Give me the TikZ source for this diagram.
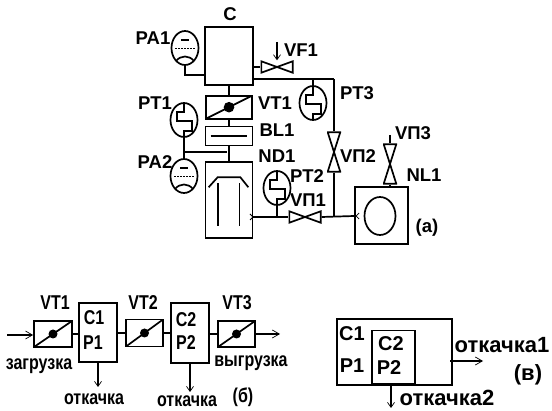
\documentclass[tikz,border=0pt]{standalone}
\usepackage{graphicx}
\usepackage{fontspec}
\setmainfont{Liberation Sans}
\usetikzlibrary{positioning,calc,shapes.geometric,arrows.meta}
\newcommand{\talltext}[1]{\scalebox{1}[1.25]{#1}}
\tikzset{
base/.style={line width=1.7pt},
box/.style={draw,base,inner sep=0pt},
lab/.style={font=\bfseries\fontsize{18.5}{19}\selectfont,inner sep=0pt},
labsm/.style={font=\bfseries\fontsize{16}{17}\selectfont,inner sep=0pt},
labwd/.style={font=\bfseries\fontsize{20}{21}\selectfont,inner sep=0pt},
labbig/.style={font=\bfseries\fontsize{22}{23}\selectfont,inner sep=0pt},
link/.style={base},
thickline/.style={line width=2.4pt},
pumpout/.style={line width=1.3pt,-{Straight Barb[length=5pt,width=7pt,line width=0.7pt]}},
gaugebase/.style={ellipse,draw,base,inner sep=0pt,minimum width=27pt,minimum height=34pt},
gaugept/.style={gaugebase,path picture={
\draw[base,shift={(path picture bounding box.center)}] (0,-17)--(0,-8)--(-7,-8)--(-7,1)--(8,1)--(8,11)--(0,11)--(0,17);}},
gaugepa/.style={gaugebase,path picture={
\draw[base,shift={(path picture bounding box.center)}] (-4,-8)--(4,-8);
\draw[line width=1pt,dash pattern=on 2pt off 1pt,shift={(path picture bounding box.center)}] (-10,1)--(10,1);
\draw[base,shift={(path picture bounding box.center)}] (-9,13) .. controls (-4,7) and (4,7) .. (9,13);}},
valveh/.style={inner sep=0pt,minimum width=33pt,minimum height=13pt,path picture={
\draw[base,shift={(path picture bounding box.center)}] (-15.7,-5.7)--(15.7,5.7)--(15.7,-5.7)--(-15.7,5.7)--cycle;}},
valvev/.style={inner sep=0pt,minimum width=14pt,minimum height=41pt,path picture={
\draw[base,shift={(path picture bounding box.center)}] (-6.3,-19.8)--(6.3,19.8)--(-6.3,19.8)--(6.3,-19.8)--cycle;}},
vtblock/.style={box,path picture={
\draw[base] (path picture bounding box.south west)--(path picture bounding box.north east);
\fill (path picture bounding box.center) circle[radius=#1];}},
vtblock/.default=4.5
}
\begin{document}
\begin{tikzpicture}[x=1pt,y=-1pt]
\useasboundingbox (0,0) rectangle (552,411);
% scheme (a)
\node[box,minimum width=48pt,minimum height=58pt] (cham) at (229,56) {};
\node[vtblock=5.3,minimum width=46pt,minimum height=23pt,below=9pt of cham] (vt1) {};
\node[box,minimum width=47pt,minimum height=19pt,below=6pt of vt1] (bl1) {};
\node[box,minimum width=47pt,minimum height=76pt,below=15pt of bl1] (nd1) {};
\draw[base] ($(bl1.west)+(6,0)$)--($(bl1.east)+(-6,0)$);
\draw[base] ($(nd1.north west)+(4,26)$)--($(nd1.north west)+(13,16)$)--($(nd1.north east)+(-13,16)$)--($(nd1.north east)+(-5,26)$);
\draw[base] ($(nd1.north west)+(13,22)$)--($(nd1.north west)+(13,65)$);
\draw[base] ($(nd1.north east)+(-14,22)$)--($(nd1.north east)+(-14,65)$);
\node[gaugepa] (pa1) at (185,48) {};
\node[gaugept] (pt1) at (184,120) {};
\node[gaugepa] (pa2) at (184,176) {};
\node[gaugept] (pt2) at (277,188) {};
\node[gaugept] (pt3) at (313,103) {};
\node[valveh] (vf1) at (277,67) {};
\node[valveh] (vp1) at (305,217) {};
\node[valvev] (vp2) at (334,152) {};
\node[valvev] (vp3) at (390,164) {};
\node[box,minimum width=53pt,minimum height=57pt] (nl1) at (381.5,215.5) {};
\node[ellipse,draw,base,inner sep=0pt,minimum width=31pt,minimum height=38pt] (pump) at (380,216) {};
\coordinate (pa1in) at (205,75);
\coordinate (bus) at (334,79);
\coordinate (busl) at (253,79);
\coordinate (pt3top) at (313,79);
\coordinate (jn1) at (184,152);
\coordinate (jn2) at (227,152);
\coordinate (jn3) at (277,217);
\coordinate (jn4) at (334,216);
\coordinate (ndout) at (253,217);
\coordinate (vf1in) at (253,67);
\coordinate (vf1top) at (277,42);
\coordinate (vp3top) at (390,135);
\draw[link] (pa1.south) |- (pa1in);
\draw[link] (cham.south) -- (cham.south |- vt1.north);
\draw[link] (vt1.south) -- (vt1.south |- bl1.north);
\draw[link] (bl1.south) -- (bl1.south |- nd1.north);
\draw[link] (pt1.south) -- (pa2.north);
\draw[link] (jn1) -- (jn2);
\draw[link] (vf1in) -- (vf1.west);
\draw[line width=1.2pt,-{Straight Barb[length=5pt,width=7pt,line width=0.7pt]}] (vf1top) -- (vf1.north);
\draw[thickline] (busl) -- (bus);
\draw[link] (bus) -- (vp2.north);
\draw[link] (vp2.south) -- (jn4);
\draw[link] (pt3top) -- (pt3.north);
\draw[link] (ndout) -- (vp1.west);
\draw[link] (vp1.east) -- (nl1.west |- jn4);
\draw[link] (pt2.south) -- (jn3);
\draw[link] (vp3top) -- (vp3.north);
\draw[link] (vp3.south) -- (vp3.south |- nl1.north);
\draw[line width=0.8pt] ($(ndout)+(-3,-3)$)--(ndout)--($(ndout)+(-3,3)$);
\draw[line width=0.8pt] ($(nl1.west |- jn4)+(5,-3)$)--($(nl1.west |- jn4)+(2,0)$)--($(nl1.west |- jn4)+(5,3)$);
\node[lab] (tc) at (230,14) {C};
\node[lab] (tpa1) at (153,38) {PA1};
\node[lab] (tvf1) at (301,50) {VF1};
\node[lab] (tpt1) at (155,103) {PT1};
\node[lab] (tvt1) at (275,103) {VT1};
\node[lab] (tpt3) at (357,93) {PT3};
\node[lab] (tbl1) at (277,130) {BL1};
\node[lab] (tvp3) at (413,133) {VП3};
\node[lab] (tvp2) at (358,156) {VП2};
\node[lab] (tnd1) at (277,156) {ND1};
\node[lab] (tpa2) at (155,162) {PA2};
\node[lab] (tnl1) at (424,175) {NL1};
\node[lab] (tpt2) at (307,176) {PT2};
\node[lab] (tvp1) at (308,200) {VП1};
\node[lab] (ta) at (427,228) {(а)};
% scheme (b)
\node[vtblock,minimum width=38pt,minimum height=26pt] (bvt1) at (53,334) {};
\node[box,minimum width=38pt,minimum height=59pt] (c1) at (98,332.5) {};
\node[vtblock,minimum width=37pt,minimum height=27pt] (bvt2) at (144.5,333) {};
\node[box,minimum width=38pt,minimum height=60pt] (c2) at (190,333) {};
\node[vtblock,minimum width=37pt,minimum height=26pt] (bvt3) at (236.5,334) {};
\coordinate (inl) at (7,335);
\coordinate (outl) at (280,334);
\coordinate (pump1) at (98,387);
\coordinate (pump2) at (190,392);
\draw[thickline,-{Straight Barb[length=7pt,width=8pt,line width=0.7pt]}] (inl) -- (bvt1.west |- inl);
\draw[link] (bvt1.east) -- (bvt1.east -| c1.west);
\draw[link] (c1.east |- bvt2) -- (bvt2.west);
\draw[link] (bvt2.east) -- (bvt2.east -| c2.west);
\draw[link] (c2.east |- bvt3) -- (bvt3.west);
\draw[thickline,-{Straight Barb[length=7pt,width=8pt,line width=0.7pt]}] (bvt3.east) -- (outl);
\draw[pumpout] (c1.south) -- (pump1);
\draw[pumpout] (c2.south) -- (pump2);
\node[labsm] (tb1) at (55,303) {\talltext{VT1}};
\node[labsm] (tb2) at (143,303) {\talltext{VT2}};
\node[labsm] (tb3) at (237,303) {\talltext{VT3}};
\node[labsm] (tc1) at (94,318) {\talltext{C1}};
\node[labsm] (tp1) at (93,343) {\talltext{P1}};
\node[labsm] (tc2) at (186,320) {\talltext{C2}};
\node[labsm] (tp2) at (186,343) {\talltext{P2}};
\node[labsm] (tload) at (39,366) {\talltext{загрузка}};
\node[labsm] (tunload) at (251,363) {\talltext{выгрузка}};
\node[labsm] (tpump1) at (94,399) {\talltext{откачка}};
\node[labsm] (tpump2) at (187,401) {\talltext{откачка}};
\node[labsm] (tb) at (243,397) {\talltext{(б)}};
% scheme (v)
\node[box,minimum width=115pt,minimum height=66pt] (outer) at (394.5,352) {};
\node[box,minimum width=43pt,minimum height=53pt,anchor=south west] (inner) at (371,384.5) {};
\coordinate (vout) at (483,361);
\coordinate (vin) at (450,361);
\coordinate (vpump) at (391,408);
\draw[thickline,-{Straight Barb[length=7pt,width=8pt,line width=0.7pt]}] (vin) -- (vout);
\draw[pumpout] (outer.south -| vpump) -- (vpump);
\node[labwd] (tvc1) at (352,334) {C1};
\node[labwd] (tvp1b) at (352,366) {P1};
\node[labwd] (tvc2) at (391,344) {C2};
\node[labwd] (tvp2b) at (389,368) {P2};
\node[labbig] (tv1) at (502,345) {откачка1};
\node[labbig] (tv) at (528,375) {(в)};
\node[labbig] (tv2) at (447,398) {откачка2};
\end{tikzpicture}
\end{document}
